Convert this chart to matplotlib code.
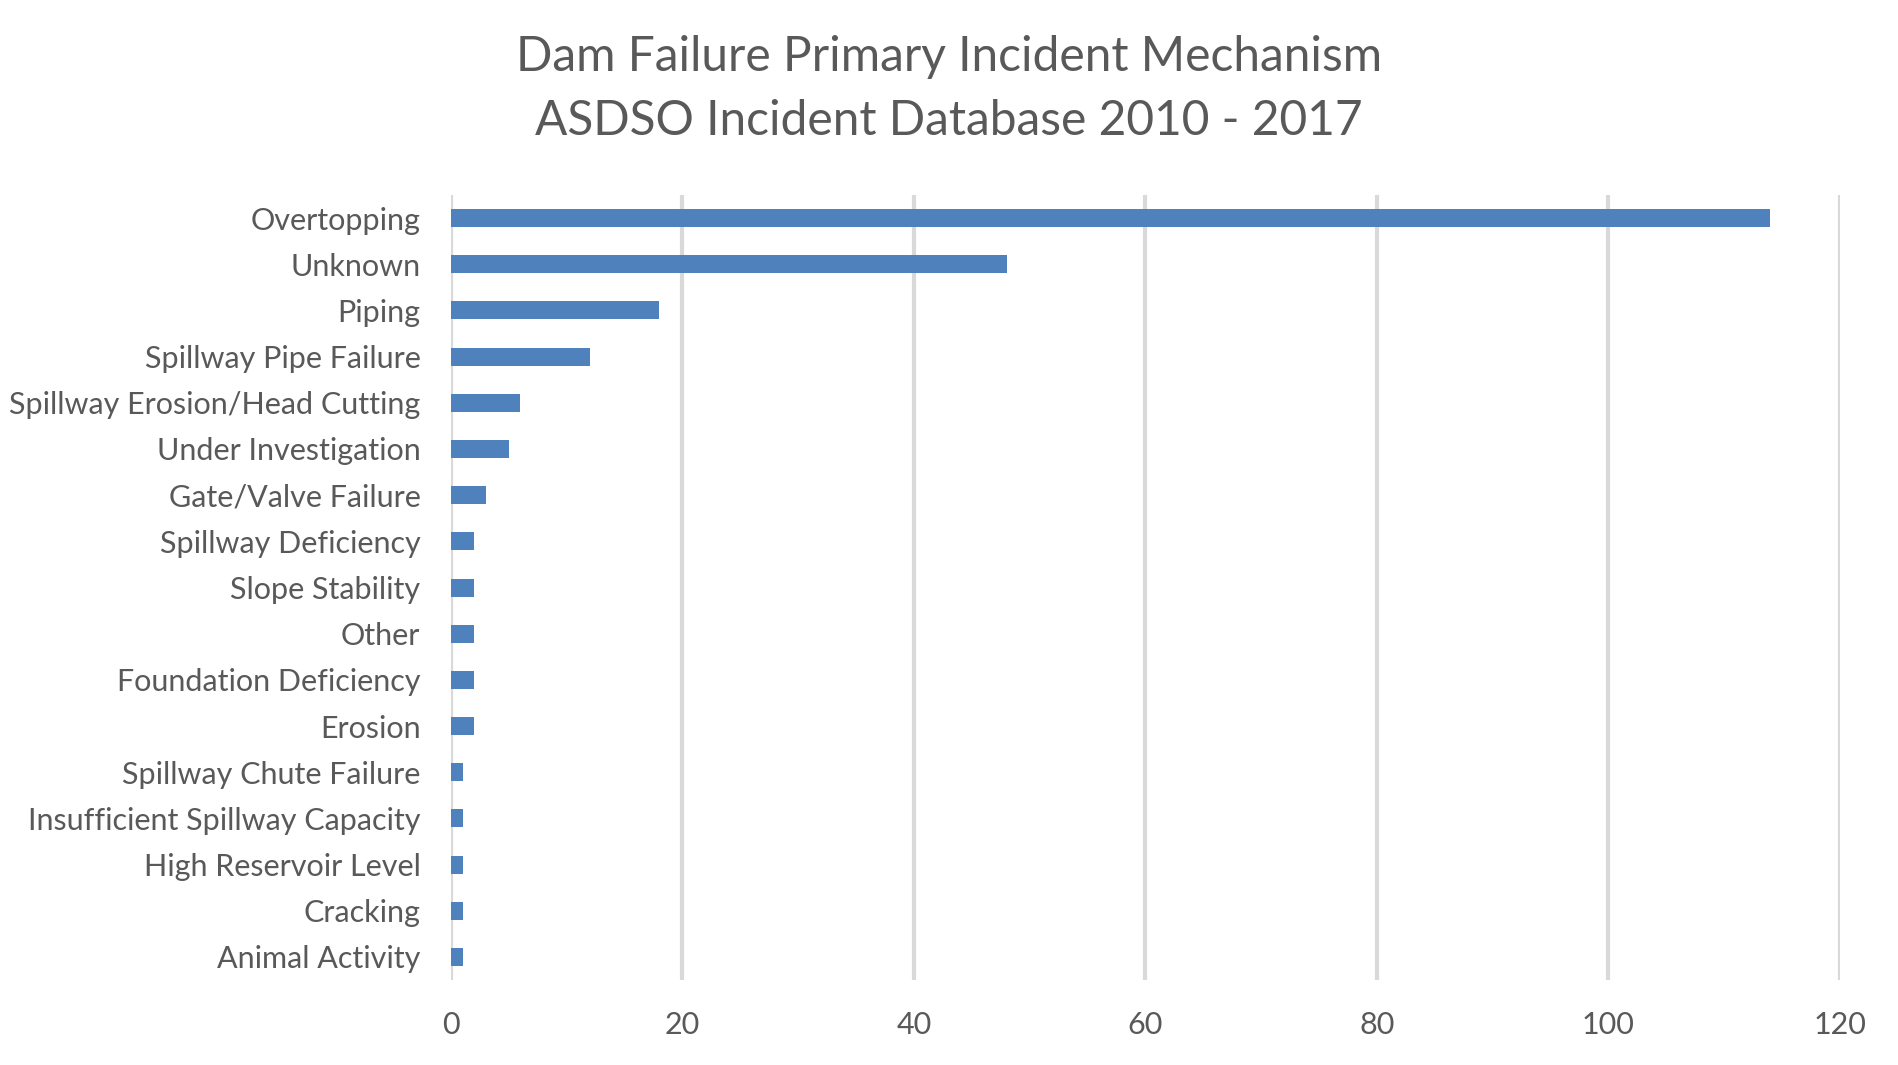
import matplotlib
matplotlib.use('Agg')
import matplotlib.pyplot as plt

# Primary incident mechanism counts (top to bottom)
mechanisms = ['Overtopping', 'Unknown', 'Piping', 'Spillway Pipe Failure',
              'Spillway Erosion/Head Cutting', 'Under Investigation',
              'Gate/Valve Failure', 'Spillway Deficiency', 'Slope Stability',
              'Other', 'Foundation Deficiency', 'Erosion',
              'Spillway Chute Failure', 'Insufficient Spillway Capacity',
              'High Reservoir Level', 'Cracking', 'Animal Activity']
counts = [114, 48, 18, 12, 6, 5, 3, 2, 2, 2, 2, 2, 1, 1, 1, 1, 1]
x_ticks = [0, 20, 40, 60, 80, 100, 120]

text_color = '#595959'
plt.rcParams['font.family'] = ['Lato', 'DejaVu Sans']

fig = plt.figure(figsize=(18.98, 10.65), dpi=100)
ax = fig.add_axes([0.2376, 0.0798, 0.9694 - 0.2376, 0.8169 - 0.0798])

#Horizontal bars, first category on top
pos = list(range(len(mechanisms)))
ax.barh(pos, counts, height=0.39, color='#4F81BD', zorder=3)
ax.set_ylim(len(mechanisms) - 0.5, -0.5)
ax.set_yticks(pos)
ax.set_yticklabels(mechanisms, fontsize=22, color=text_color)

ax.set_xlim(0, 120)
ax.set_xticks(x_ticks)
ax.set_xticklabels([str(t) for t in x_ticks], fontsize=22, color=text_color)
ax.grid(axis='x', color='#D9D9D9', linewidth=3, zorder=0)
ax.tick_params(axis='both', length=0)
ax.tick_params(axis='y', pad=22)
ax.tick_params(axis='x', pad=22)
for s in ax.spines.values():
    s.set_visible(False)

fig.text(0.5, 1 - 57 / 1065, 'Dam Failure Primary Incident Mechanism',
         ha='center', va='center', fontsize=34.5, color=text_color)
fig.text(0.5, 1 - 121 / 1065, 'ASDSO Incident Database 2010 - 2017',
         ha='center', va='center', fontsize=34.5, color=text_color)

fig.savefig('out.png', dpi=100)
